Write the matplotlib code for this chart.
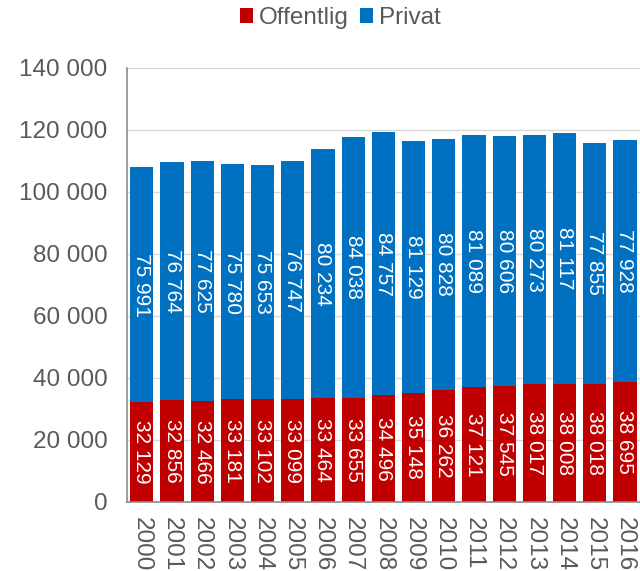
import matplotlib.pyplot as plt
import numpy as np

years = [str(y) for y in range(2000, 2017)]
offentlig = [32129, 32856, 32466, 33181, 33102, 33099, 33464, 33655, 34496,
             35148, 36262, 37121, 37545, 38017, 38008, 38018, 38695]
privat = [75991, 76764, 77625, 75780, 75653, 76747, 80234, 84038, 84757,
          81129, 80828, 81089, 80606, 80273, 81117, 77855, 77928]

plt.rcParams['font.family'] = ['Liberation Sans', 'DejaVu Sans']
grey = "#595959"


def fmt(v):
    return f"{v:,}".replace(",", " ")


fig = plt.figure(figsize=(6.4, 5.71), dpi=100)
ax = fig.add_axes([0.198, 0.121, 0.802, 0.76])
x = np.arange(len(years))
b1 = ax.bar(x, offentlig, width=0.77, color="#C00000", label="Offentlig")
b2 = ax.bar(x, privat, width=0.77, bottom=offentlig, color="#0070C0", label="Privat")

ax.bar_label(b1, labels=[fmt(v) for v in offentlig], label_type="center",
             rotation=-90, color="white", fontsize=15)
ax.bar_label(b2, labels=[fmt(v) for v in privat], label_type="center",
             rotation=-90, color="white", fontsize=15)

ax.set_xlim(-0.5, len(years) - 0.5)
ax.set_ylim(0, 140000)
ax.set_yticks(range(0, 140001, 20000))
ax.set_yticklabels([fmt(v) for v in range(0, 140001, 20000)], fontsize=17.5, color=grey)
ax.set_xticks(x)
ax.set_xticklabels(years, rotation=-90, fontsize=17.5, color=grey)
ax.tick_params(axis="x", length=0, pad=11)
ax.tick_params(axis="y", length=0, pad=14)
ax.yaxis.grid(True, color="#D9D9D9", linewidth=1)
ax.set_axisbelow(True)
for s in ["top", "right"]:
    ax.spines[s].set_visible(False)
for s in ["left", "bottom"]:
    ax.spines[s].set_color("#8C8C8C")
    ax.spines[s].set_linewidth(1.2)

fig.legend(loc="center", bbox_to_anchor=(0.532, 0.968), ncol=2, frameon=False,
           fontsize=17.5, handlelength=0.55, handleheight=0.55, handletextpad=0.25,
           columnspacing=0.45, labelcolor=grey, borderpad=0)

fig.savefig("out.png", dpi=100)
